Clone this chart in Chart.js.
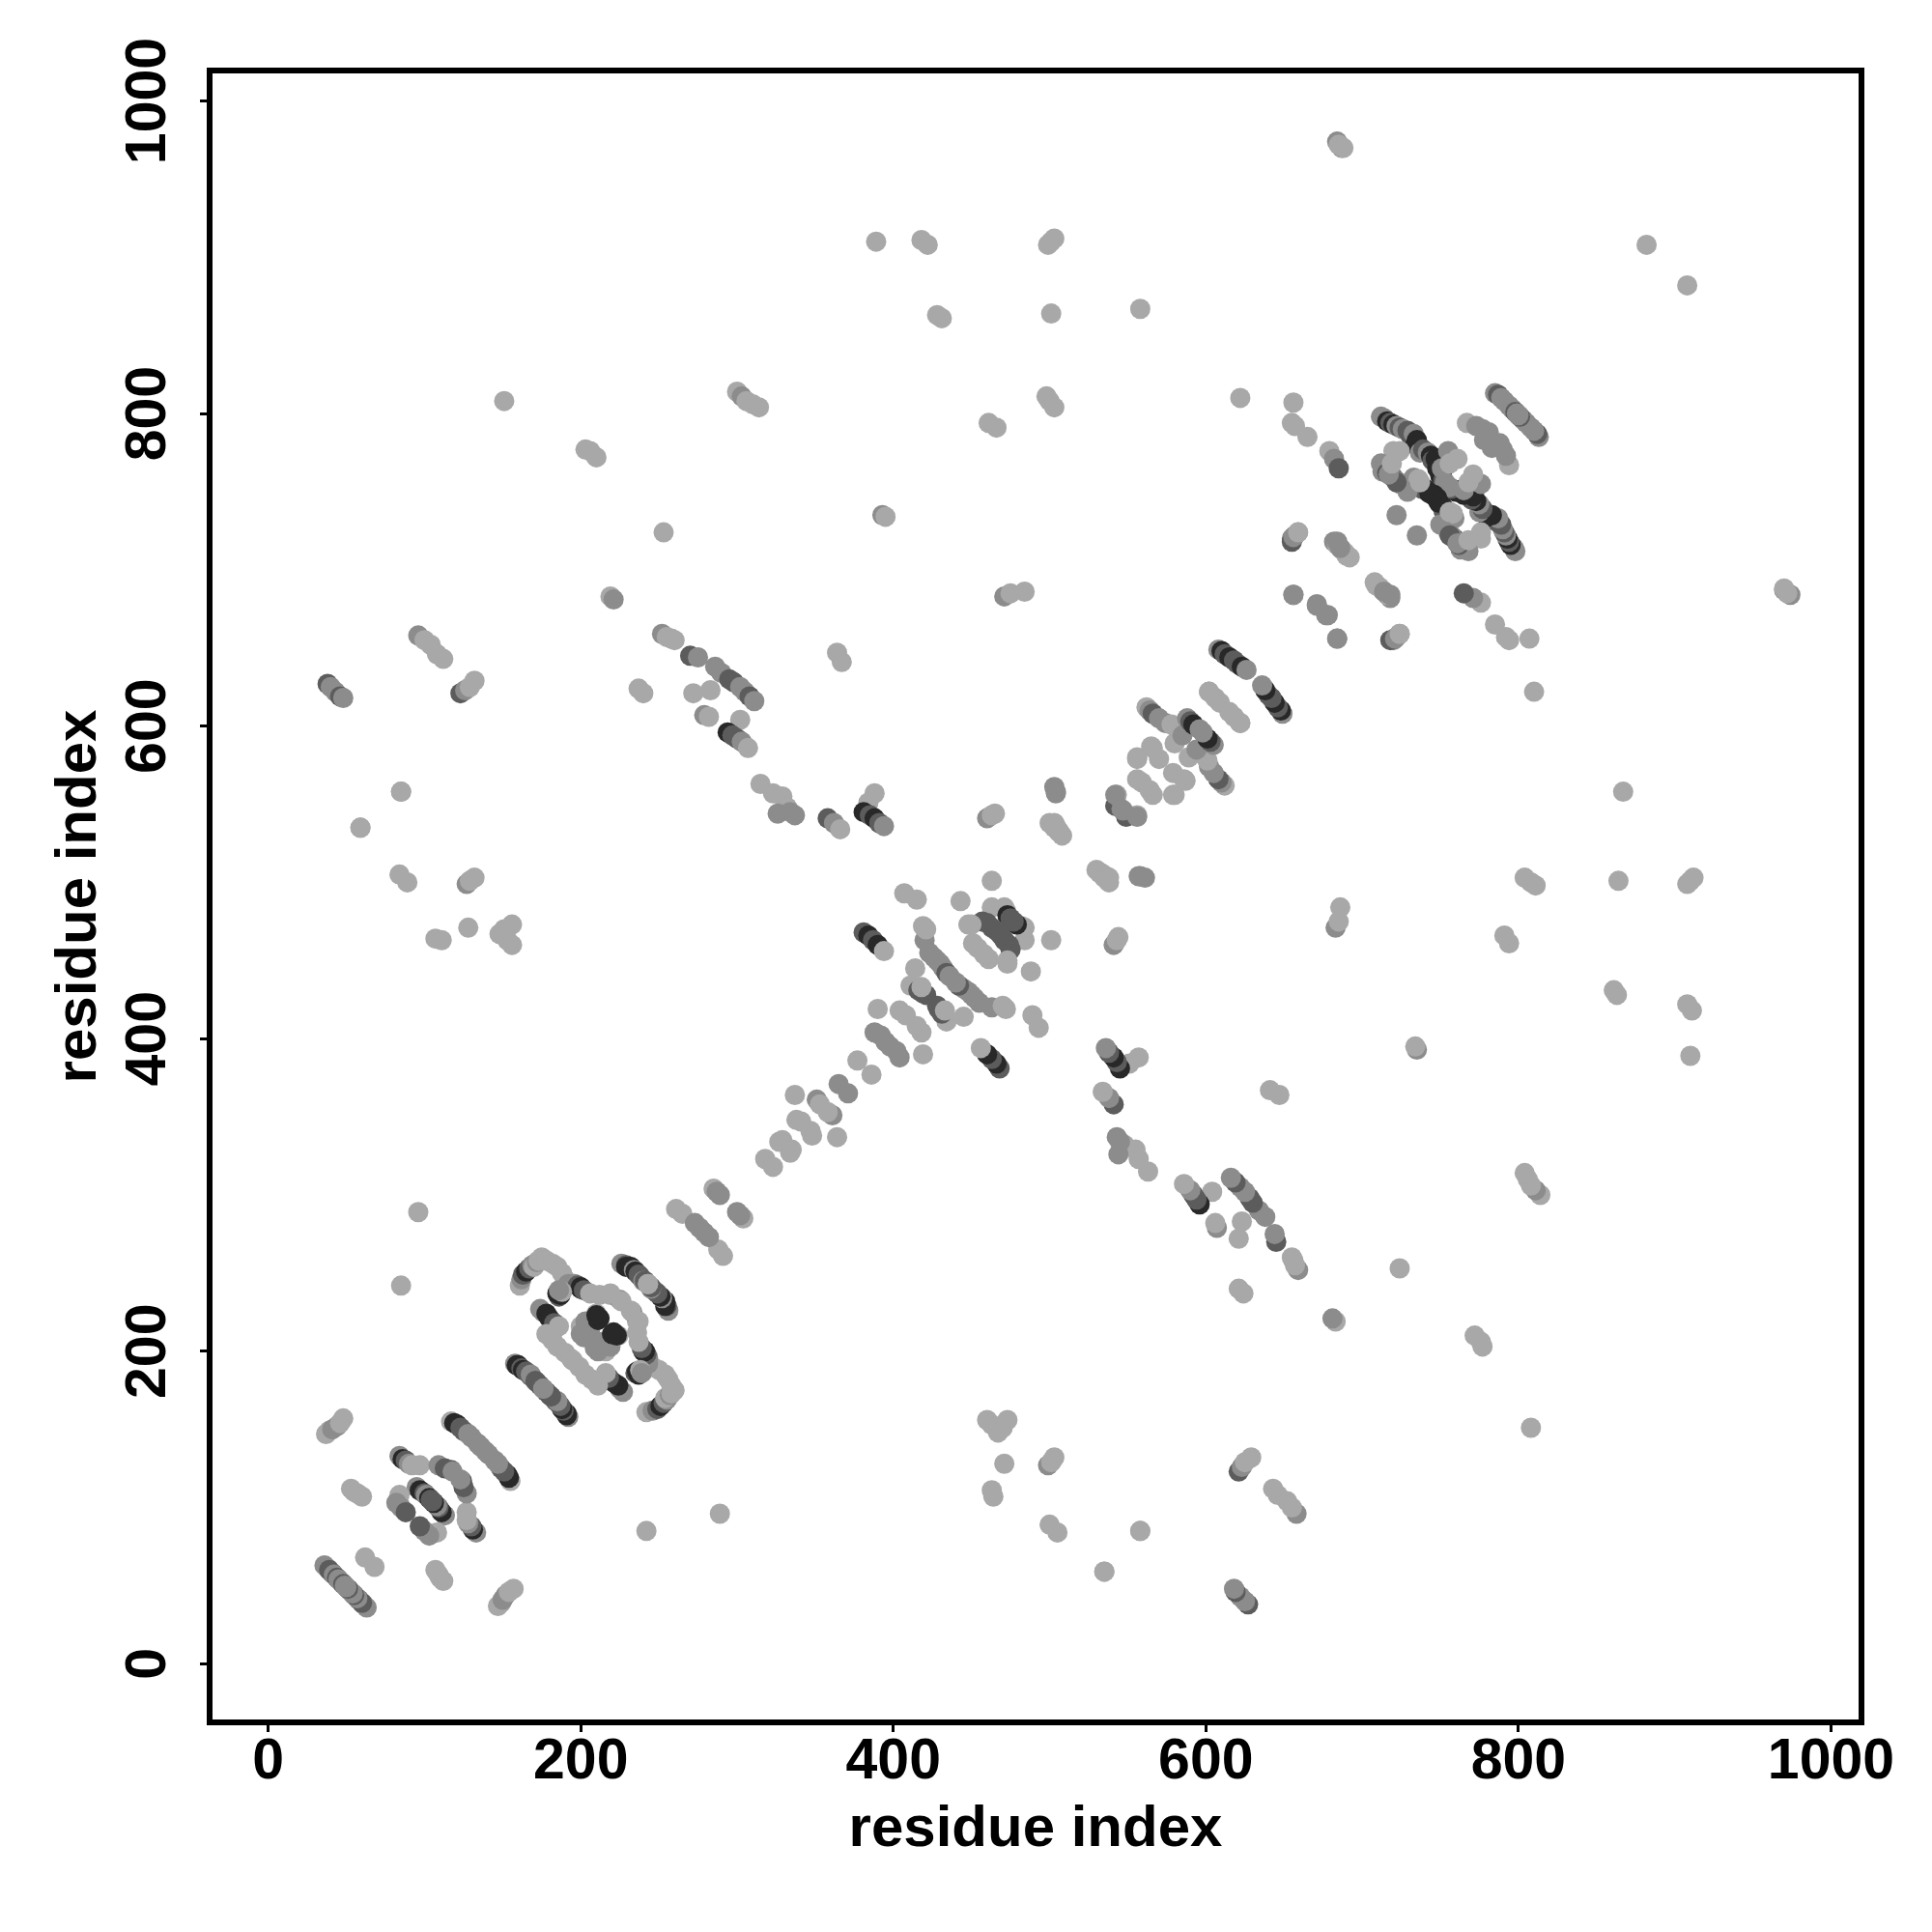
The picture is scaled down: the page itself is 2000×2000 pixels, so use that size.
<!DOCTYPE html>
<html><head><meta charset="utf-8">
<script src="https://cdn.jsdelivr.net/npm/chart.js@4/dist/chart.umd.min.js"></script>
<style>html,body{margin:0;padding:0;background:#fff}canvas{display:block}</style>
</head><body><canvas id="c" width="2000" height="2000"></canvas>
<script>
// Contacts: [residue i, residue j, score 0 (weak) .. 3 (strong)]; the map is symmetric.
const tickLabels = [0,200,400,600,800,1000];
const axisTitle = "residue index";
const domainLow = [
[36,63,1],[38,61,1],[39,60,2],[41,58,2],[42,57,1],[44,55,2],[45,54,1],[47,52,1],[48,51,2],[49,50,1],
[62,68,0],[37,147,0],[39,149,0],[41,150,1],[44,152,1],[46,154,0],[48,157,0],
[53,112,0],[55,110,0],[57,109,0],[60,107,0],
[84,133,1],[86,131,3],[88,130,2],[90,128,1],[92,127,0],[97,127,0],
[109,127,1],[113,125,2],[117,124,2],[118,123,1],
[95,113,1],[97,111,3],[100,109,2],[101,108,1],[103,106,3],[104,105,2],
[84,108,0],[82,103,1],[85,100,1],[88,97,2],
[117,155,0],[119,154,3],[121,153,3],[123,151,2],[125,149,2],[128,147,1],[130,145,1],[134,141,1],[136,139,1]
];
const domainMid = [
[158,192,1],[159,191,3],[160,191,3],[162,189,2],[163,188,3],[165,187,2],[168,184,2],[168,185,1],[171,181,2],[172,180,2],[174,178,2],[176,176,1],
[161,242,0],[162,246,1],[163,249,2],[165,251,3],[167,253,2],[169,255,1],[170,254,0],[172,257,1],[173,258,0],[175,260,0],[178,258,0],[182,256,0],
[185,254,0],[188,250,0],[190,246,0],[192,243,1],[196,243,1],[198,242,2],[200,241,3],[200,240,3],[202,239,2],[206,237,0],[212,236,0],[219,236,0],[225,233,1],[232,226,0],[237,219,0],
[226,256,1],[229,255,2],[229,254,3],[232,254,3],[234,252,1],[235,251,3],[237,249,2],[238,248,2],[240,245,1],[241,245,2],[243,243,0],
[174,227,1],[176,225,1],[178,224,3],[180,221,3],[183,218,2],[186,216,0],
[178,211,0],[182,207,0],[185,203,0],[190,199,0],[194,195,0],
[186,235,2],[187,236,3],[185,237,3],[188,238,0],[186,239,1],
[201,215,1],[204,212,1],[206,214,1],[200,216,0],[203,219,1],[210,224,0],[212,221,3],[210,223,3],[211,220,3],[200,211,1],[202,209,1]
];
const linkLow = [
[261,291,0],[265,288,0],[273,282,1],[276,279,1],[285,304,0],[287,302,1],[289,300,1],
[318,323,0],[327,334,0],[329,335,0],[337,364,0],[338,348,0],[341,347,0],[351,361,1],[353,358,0],[365,371,1],
[377,386,0],[388,404,1],[392,402,1],[395,398,1],[404,418,0],[408,415,0],[411,434,0],[414,445,0],[416,431,2],[419,429,2],[421,428,2],[418,433,0],
[420,463,1],[423,455,1],[426,452,1],[428,450,1],[430,448,1],[432,445,1],[434,442,2],[436,440,1],[419,472,0],
[407,493,0],[415,489,0],[419,390,0],[443,488,0],[420,471,0],[421,470,0]
];
const domainCentre = [
[463,484,0],[471,484,0],[472,482,0],[473,479,3],[475,477,2],[457,475,2],[460,474,2],[463,471,2],[466,469,2],[448,473,0],[450,473,0],[451,461,0],[454,458,0],[463,501,0],
[500,538,0],[503,535,0],[506,532,0],[530,508,0],[533,506,0],[536,504,0],[538,503,0],
[503,561,1],[504,557,1],[504,558,1]
];
const linkHigh = [
[543,556,0],[542,549,2],[549,543,2],[556,542,1],[547,546,1],
[556,580,0],[565,587,0],[570,579,0],[580,589,0],[556,566,0],[559,564,0],[579,556,0],[566,586,0],
[562,612,0],[564,610,1],[566,608,2],[570,605,1],[574,602,1],[578,601,0],[581,599,0],[585,594,1],
[588,605,1],[590,603,2],[592,601,3],[596,598,1],
[602,622,0],[606,618,0],[609,615,0],[622,602,0],
[608,649,1],[610,648,3],[612,646,2],[615,644,3],[618,642,2],[620,640,2],[623,638,3],[626,636,1]
];
const domainHigh = [
[712,798,1],[714,797,1],[716,795,3],[718,794,2],[720,793,3],[722,792,1],[724,791,2],[726,790,1],[729,789,2],[731,786,2],[733,787,1],[734,780,3],[735,783,3],[737,775,1],[739,777,2],[742,775,1],[744,773,3],[745,770,2],[747,771,3],[748,765,3],[750,760,3],[751,762,3],[752,757,2],[753,756,1],
[720,776,0],[712,768,1],[714,765,1],[713,763,1],[716,762,2],[718,761,3],[720,759,2],[722,757,1],[724,755,0],[727,755,0],[733,759,1],[736,758,0],[738,754,1],[740,752,3],[742,750,3],[746,748,3],[748,745,3],[738,752,2],
[729,750,1],[722,756,2],[717,761,1],[719,768,0],[724,776,0],[743,749,3],[737,756,0],
[755,776,1],[761,771,0],[751,765,1],[756,768,0],
[722,735,1],[767,794,0],[773,792,1],[777,790,1],[781,788,1],[783,778,1],
[785,813,1],[787,812,2],[789,810,1],[791,808,1],[794,805,1],[796,803,1],[798,801,2],[799,800,1]
];
const longRange = [
[38,627,2],[40,625,1],[43,622,1],[46,619,2],[48,618,1],
[96,658,1],[100,655,0],[104,652,0],[108,646,0],[112,643,0],
[123,621,2],[126,623,1],[129,625,0],[132,629,0],
[85,558,0],[59,535,0],[84,505,0],[89,500,0],[127,499,1],[129,501,0],[132,503,0],
[107,464,0],[111,463,0],[128,471,0],[148,467,0],[151,470,0],[156,473,0],[153,463,0],[156,460,0],
[96,289,0],[85,242,0],[151,808,0],[203,777,0],[206,776,0],[210,772,0],[219,683,0],[221,681,1],[253,724,0],
[252,659,1],[255,657,0],[258,656,0],[260,655,0],[237,624,0],[240,621,0],
[270,645,2],[275,644,1],[286,638,1],[290,634,1],[295,630,2],[298,628,2],[302,625,1],[305,622,1],[308,619,2],[311,616,1],
[272,621,0],[283,623,0],[279,607,1],[282,606,0],[302,604,0],[294,596,3],[297,594,2],[300,592,2],[303,590,1],[307,586,0],
[315,563,0],[323,557,0],[329,555,0],[332,548,0],[326,544,1],[334,545,1],[337,543,1],
[358,541,2],[362,538,1],[366,534,0],[388,557,0],[384,551,0],[381,545,3],[385,543,2],[388,541,3],[391,538,2],[394,536,1],
[381,468,2],[384,466,3],[387,463,2],[390,460,3],[394,456,0],
[460,541,1],[463,543,0],[465,544,0],
[300,814,0],[303,811,1],[306,808,0],[310,806,0],[314,804,0],
[389,910,0],[418,911,0],[422,908,0],[499,908,0],[501,910,0],[503,912,0],[428,863,0],[431,861,0],[501,864,0],[558,867,0],
[461,794,0],[466,791,0],[498,811,0],[500,808,0],[503,804,0],[622,810,0],[656,807,0],[655,794,0],[657,792,0],[665,785,0],
[393,735,1],[395,734,0],[471,683,1],[475,685,0],[484,686,0],[364,647,0],[367,641,0],
[679,776,0],[682,771,1],[685,765,2],[655,720,1],[657,722,1],[659,724,0],
[682,718,1],[684,716,0],[687,713,0],[690,709,0],[656,684,1],[671,678,1],[677,671,1],[684,656,1],
[708,692,0],[711,689,0],[714,686,1],[718,684,1],[718,655,2],[721,656,1],[724,659,0],
[970,687,1],[974,684,1],[685,972,0],[688,970,0],[882,908,0],
[535,59,0],[558,85,0]
];
const allContacts = [domainLow, domainMid, linkLow, domainCentre, linkHigh, domainHigh, longRange].flat();
const scoreGray = ["rgb(168,168,168)","rgb(140,140,140)","rgb(92,92,92)","rgb(40,40,40)"];
const points = [], colors = [];
allContacts.forEach(([i,j,s]) => {
  points.push({x:i,y:j}); colors.push(scoreGray[s]);
  points.push({x:j,y:i}); colors.push(scoreGray[s]);
});
const frame = { id:"frame", afterDatasetsDraw(ch){ const a=ch.chartArea,c=ch.ctx; c.save(); c.strokeStyle="#000"; c.lineWidth=6; c.lineJoin="miter"; c.strokeRect(a.left,a.top,a.right-a.left,a.bottom-a.top); c.restore(); } };
const tickFont = {family:"'Liberation Sans'",weight:"bold",size:59};
const titleFont = {family:"'Liberation Sans'",weight:"bold",size:60};
function fixedTicks(scale){ scale.ticks = tickLabels.map(v=>({value:v})); }
new Chart(document.getElementById("c"),{
  type:"scatter",
  data:{datasets:[{data:points,pointBackgroundColor:colors,pointBorderWidth:0,pointRadius:10.5,showLine:false}]},
  options:{
    responsive:false,animation:false,
    layout:{padding:{top:73,right:73,left:46,bottom:70}},
    plugins:{legend:{display:false},tooltip:{enabled:false},title:{display:false}},
    scales:{
      x:{type:"linear",min:-37.5,max:1019.5,afterBuildTicks:fixedTicks,
        afterFit(s){s.height=147;},
        grid:{drawOnChartArea:false,color:"#000",lineWidth:3,tickLength:10,tickColor:"#000"},border:{display:false},
        ticks:{color:"#000",font:tickFont,padding:-4,maxRotation:0,minRotation:0,autoSkip:false,callback:v=>String(v)},
        title:{display:true,text:axisTitle,color:"#000",font:titleFont,padding:{top:0,bottom:0}}},
      y:{type:"linear",min:-37.5,max:1019.5,afterBuildTicks:fixedTicks,
        afterFit(s){s.width=171;},
        grid:{drawOnChartArea:false,color:"#000",lineWidth:3,tickLength:10,tickColor:"#000"},border:{display:false},
        ticks:{color:"#000",font:tickFont,padding:-13,crossAlign:"center",maxRotation:90,minRotation:90,autoSkip:false,callback:v=>String(v)},
        title:{display:true,text:axisTitle,color:"#000",font:titleFont,padding:{top:0,bottom:0}}}
    }
  },
  plugins:[frame]
});
</script></body></html>
